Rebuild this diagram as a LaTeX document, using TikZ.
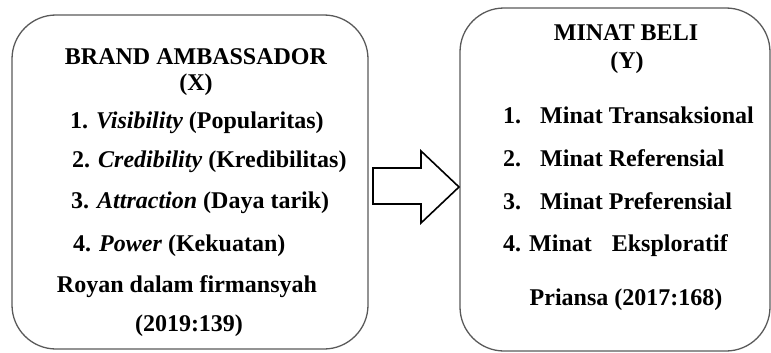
\documentclass[tikz,border=0pt]{standalone}
\usepackage{fontspec}
\setmainfont{Liberation Serif}
\begin{document}
\begin{tikzpicture}[x=1pt,y=-1pt,
  box/.style={draw=black!65,line width=1.3pt,rounded corners=44pt},
  txt/.style={inner sep=0pt,font=\fontsize{24}{28}\selectfont\bfseries},
  blockarrow/.style={draw=black,line width=1.6pt,line join=miter,fill=white}]
\useasboundingbox (0,0) rectangle (771,353);
% boxes
\draw[box] (12,15) rectangle (368,349);
\draw[box] (460,8) rectangle (770,351);
% block arrow
\draw[blockarrow] (373,168) -- (421,168) -- (421,151) -- (459,187) -- (421,223) -- (421,204) -- (373,204) -- cycle;
% left text
\node[txt,anchor=base] (lt1) at (196,64) {BRAND AMBASSADOR};
\node[txt,anchor=base] (lt2) at (196,91) {(X)};
\node[txt,anchor=base west] (l1) at (70,128) {1. \textit{Visibility} (Popularitas)};
\node[txt,anchor=base west] (l2) at (72,167) {2. \textit{Credibility} (Kredibilitas)};
\node[txt,anchor=base west] (l3) at (71,208) {3. \textit{Attraction} (Daya tarik)};
\node[txt,anchor=base west] (l4) at (73,251) {4. \textit{Power} (Kekuatan)};
\node[txt,anchor=base] (lr1) at (187,292) {Royan dalam firmansyah};
\node[txt,anchor=base] (lr2) at (189,331) {(2019:139)};
% right text
\node[txt,anchor=base] (rt1) at (626,41) {MINAT BELI};
\node[txt,anchor=base] (rt2) at (627,68) {(Y)};
\node[txt,anchor=base west] (r1) at (503,123) {\makebox[37pt][l]{1.}Minat Transaksional};
\node[txt,anchor=base west] (r2) at (503,166) {\makebox[37pt][l]{2.}Minat Referensial};
\node[txt,anchor=base west] (r3) at (503,209) {\makebox[37pt][l]{3.}Minat Preferensial};
\node[txt,anchor=base west] (r4) at (503,251) {4. Minat\hspace{20pt}Eksploratif};
\node[txt,anchor=base] (rr) at (626,305) {Priansa (2017:168)};
\end{tikzpicture}
\end{document}
